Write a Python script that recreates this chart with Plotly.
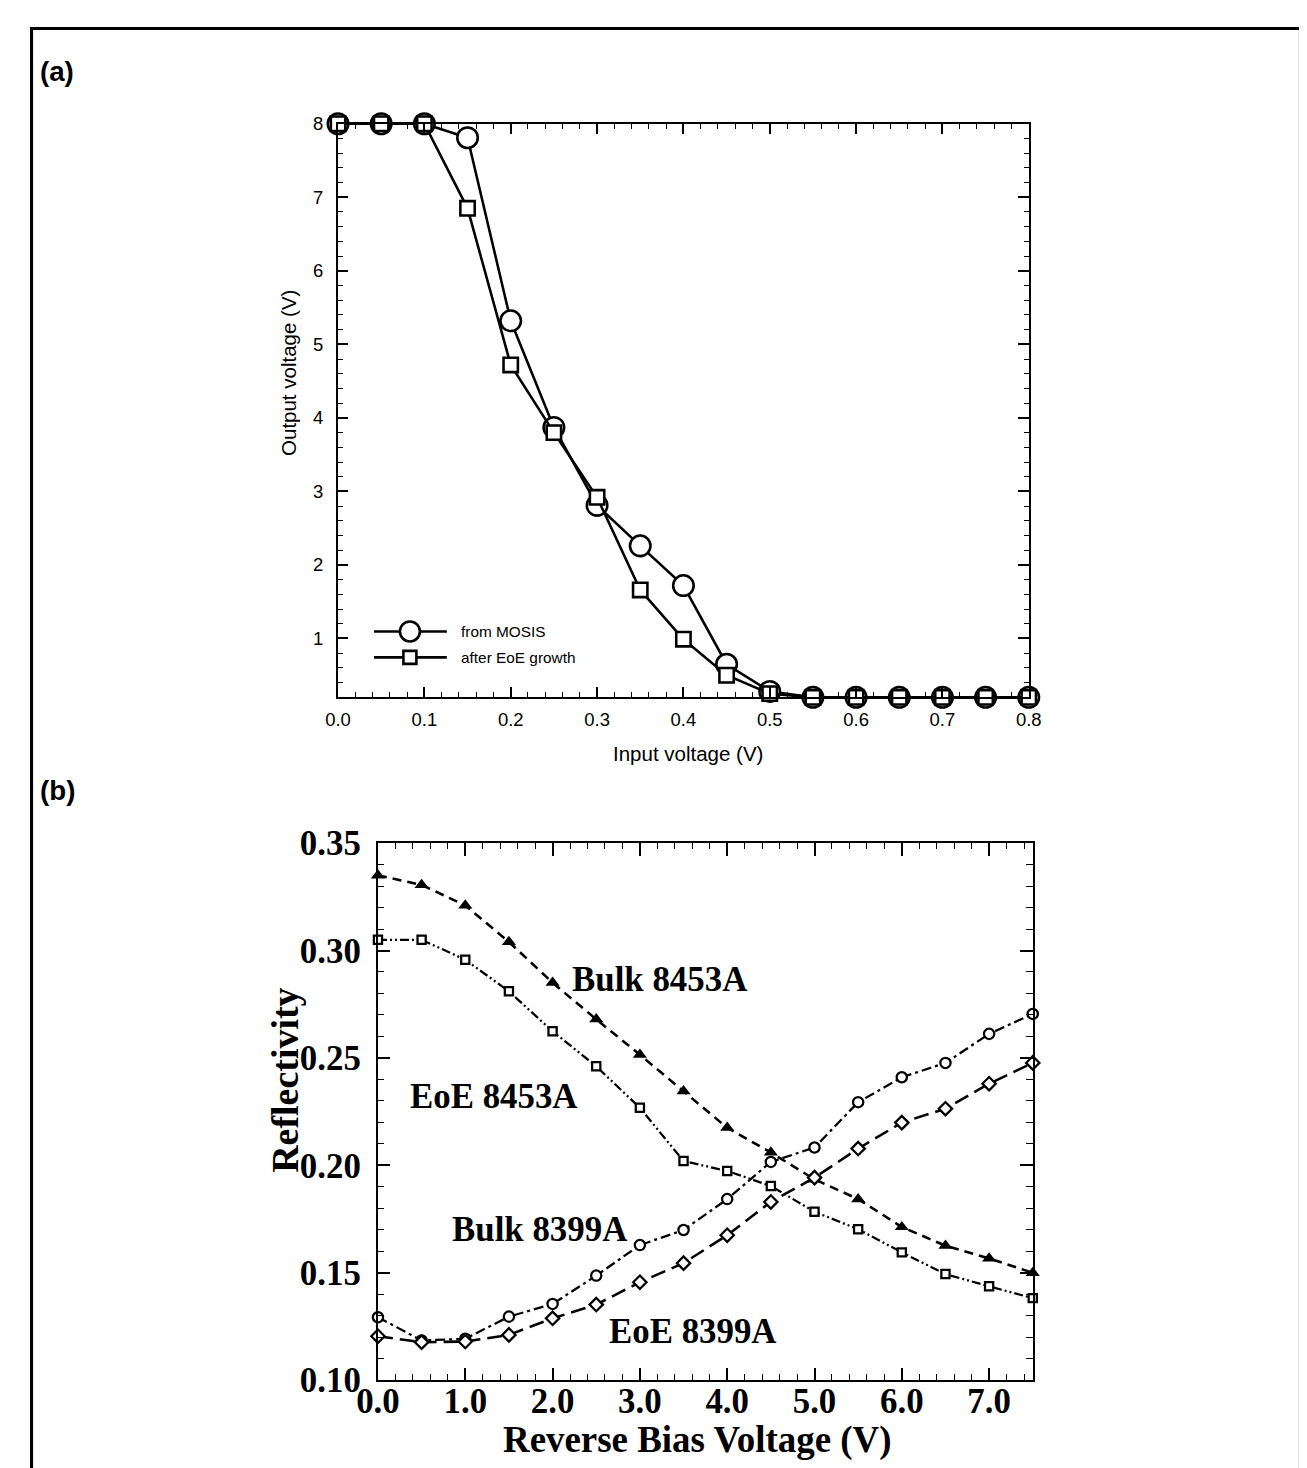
import plotly.graph_objects as go

W, H = 1307, 1468

# ---------------- Panel (a) data ----------------
vin = [0.0, 0.05, 0.1, 0.15, 0.2, 0.25, 0.3, 0.35, 0.4, 0.45, 0.5, 0.55, 0.6, 0.65, 0.7, 0.75, 0.8]
vout_mosis = [8.0, 8.0, 8.0, 7.81, 5.32, 3.87, 2.81, 2.26, 1.72, 0.65, 0.28, 0.2, 0.2, 0.2, 0.2, 0.2, 0.2]
vout_eoe = [8.0, 8.0, 8.0, 6.85, 4.72, 3.80, 2.92, 1.66, 0.99, 0.50, 0.25, 0.2, 0.2, 0.2, 0.2, 0.2, 0.2]
legend_a = ["from MOSIS", "after EoE growth"]

# ---------------- Panel (b) data ----------------
vbias = [0.0, 0.5, 1.0, 1.5, 2.0, 2.5, 3.0, 3.5, 4.0, 4.5, 5.0, 5.5, 6.0, 6.5, 7.0, 7.5]
bulk_8453 = [0.335, 0.3305, 0.321, 0.304, 0.285, 0.268, 0.2515, 0.2345, 0.2175, 0.206, 0.1935, 0.1843, 0.1713, 0.1626, 0.1567, 0.150]
eoe_8453 = [0.305, 0.305, 0.2957, 0.281, 0.2624, 0.2461, 0.2268, 0.2020, 0.1974, 0.1904, 0.1784, 0.1703, 0.1595, 0.1494, 0.1437, 0.1382]
bulk_8399 = [0.1293, 0.1185, 0.1193, 0.1296, 0.1355, 0.1487, 0.1629, 0.1699, 0.1843, 0.2016, 0.2083, 0.2294, 0.2410, 0.2477, 0.2612, 0.2705]
eoe_8399 = [0.1205, 0.1177, 0.1180, 0.1211, 0.1288, 0.1352, 0.1456, 0.1545, 0.1675, 0.1830, 0.1943, 0.2078, 0.2199, 0.2264, 0.2380, 0.2477]
labels_b = ["Bulk 8453A", "EoE 8453A", "Bulk 8399A", "EoE 8399A"]
label_pos_b = [(3.22, 0.2864), (1.33, 0.2322), (1.85, 0.1703), (3.61, 0.1225)]

# The rendered page shows up scaled by K with a small offset; layout positions below
# are given in target-picture pixels and converted to figure pixels.
K = 0.975
OX, OY = 27.4, 25.6
S = 1 / K


def fxp(r):
    return (r - OX) / K


def fyp(r):
    return (r - OY) / K


def px(r):
    return fxp(r) / W


def py(r):
    return 1 - fyp(r) / H


def ppx(f):
    return f / W


def ppy(f):
    return 1 - f / H


SANS = "Liberation Sans"
SERIF = "Liberation Serif"

fig = go.Figure()

# Panel (a) traces
fig.add_trace(go.Scatter(
    x=vin, y=vout_mosis, mode="lines+markers", name=legend_a[0],
    line=dict(color="black", width=2.5 * S),
    marker=dict(symbol="circle", size=20 * S, color="white", line=dict(color="black", width=2.5 * S)),
    cliponaxis=False, xaxis="x", yaxis="y", showlegend=False))
fig.add_trace(go.Scatter(
    x=vin, y=vout_eoe, mode="lines+markers", name=legend_a[1],
    line=dict(color="black", width=2.5 * S),
    marker=dict(symbol="square", size=14 * S, color="white", line=dict(color="black", width=2.5 * S)),
    cliponaxis=False, xaxis="x", yaxis="y", showlegend=False))

# Panel (b) traces
fig.add_trace(go.Scatter(
    x=vbias, y=bulk_8453, mode="lines+markers", name=labels_b[0],
    line=dict(color="black", width=2.5 * S, dash="9px,6px"),
    marker=dict(symbol="triangle-up", size=12 * S, color="black"),
    cliponaxis=False, xaxis="x2", yaxis="y2", showlegend=False))
fig.add_trace(go.Scatter(
    x=vbias, y=eoe_8453, mode="lines+markers", name=labels_b[1],
    line=dict(color="black", width=2.2 * S, dash="9px,3px,2px,3px,2px,3px"),
    marker=dict(symbol="square", size=8 * S, color="white", line=dict(color="black", width=2.2 * S)),
    cliponaxis=False, xaxis="x2", yaxis="y2", showlegend=False))
fig.add_trace(go.Scatter(
    x=vbias, y=bulk_8399, mode="lines+markers", name=labels_b[2],
    line=dict(color="black", width=2.2 * S, dash="10px,4px,3px,4px"),
    marker=dict(symbol="circle", size=10 * S, color="white", line=dict(color="black", width=2.2 * S)),
    cliponaxis=False, xaxis="x2", yaxis="y2", showlegend=False))
fig.add_trace(go.Scatter(
    x=vbias, y=eoe_8399, mode="lines+markers", name=labels_b[3],
    line=dict(color="black", width=2.5 * S, dash="15px,7px"),
    marker=dict(symbol="diamond", size=10 * S, color="white", line=dict(color="black", width=2.2 * S)),
    cliponaxis=False, xaxis="x2", yaxis="y2", showlegend=False))

# Axis geometry (target-picture pixels)
ax_a = dict(l=336, r=1028, t=122.5, b=697)
ax_b = dict(l=376, r=1032, t=843, b=1381)

common = dict(showline=True, linecolor="black", mirror="allticks", ticks="inside",
              tickcolor="black", showgrid=False, zeroline=False, fixedrange=True)

fig.update_layout(
    width=W, height=H, margin=dict(l=0, r=0, t=0, b=0),
    paper_bgcolor="white", plot_bgcolor="white",
    xaxis=dict(domain=[px(ax_a["l"]), px(ax_a["r"])], anchor="y", range=[0, 0.8],
               tickvals=[0.0, 0.1, 0.2, 0.3, 0.4, 0.5, 0.6, 0.7, 0.8],
               ticktext=["0.0", "0.1", "0.2", "0.3", "0.4", "0.5", "0.6", "0.7", "0.8"],
               ticklen=10 * S, tickwidth=1.5, linewidth=2 * S,
               minor=dict(dtick=0.02, tick0=0, ticklen=5 * S, tickwidth=1.2, ticks="inside", tickcolor="black"),
               tickfont=dict(family=SANS, size=18 * S, color="black"), ticklabelstandoff=4, **common),
    yaxis=dict(domain=[py(ax_a["b"]), py(ax_a["t"])], anchor="x", range=[0.2, 8],
               tickvals=[1, 2, 3, 4, 5, 6, 7, 8], ticktext=["1", "2", "3", "4", "5", "6", "7", "8"],
               ticklen=10 * S, tickwidth=1.5, linewidth=2 * S,
               minor=dict(dtick=0.2, tick0=0, ticklen=5 * S, tickwidth=1.2, ticks="inside", tickcolor="black"),
               tickfont=dict(family=SANS, size=18 * S, color="black"), ticklabelstandoff=9, **common),
    xaxis2=dict(domain=[px(ax_b["l"]), px(ax_b["r"])], anchor="y2", range=[0, 7.5],
                tickvals=[0, 1, 2, 3, 4, 5, 6, 7],
                ticktext=["0.0", "1.0", "2.0", "3.0", "4.0", "5.0", "6.0", "7.0"],
                ticklen=12 * S, tickwidth=1.5, linewidth=2.2 * S,
                minor=dict(dtick=0.2, tick0=0, ticklen=6 * S, tickwidth=1.2, ticks="inside", tickcolor="black"),
                tickfont=dict(family=SERIF, size=34 * S, color="black", weight="bold"), ticklabelstandoff=-11, **common),
    yaxis2=dict(domain=[py(ax_b["b"]), py(ax_b["t"])], anchor="x2", range=[0.10, 0.35],
                tickvals=[0.10, 0.15, 0.20, 0.25, 0.30, 0.35],
                ticktext=["0.10", "0.15", "0.20", "0.25", "0.30", "0.35"],
                ticklen=12 * S, tickwidth=1.5, linewidth=2.2 * S,
                minor=dict(dtick=0.01, tick0=0, ticklen=6 * S, tickwidth=1.2, ticks="inside", tickcolor="black"),
                tickfont=dict(family=SERIF, size=34 * S, color="black", weight="bold"), ticklabelstandoff=8, **common),
)

annotations = []
# Panel labels
annotations.append(dict(text="(a)", x=px(35), y=py(70), xref="paper", yref="paper",
                        xanchor="left", yanchor="middle", showarrow=False,
                        font=dict(family=SANS, size=27 * S, color="black", weight="bold")))
annotations.append(dict(text="(b)", x=px(35), y=py(790), xref="paper", yref="paper",
                        xanchor="left", yanchor="middle", showarrow=False,
                        font=dict(family=SANS, size=27 * S, color="black", weight="bold")))
# Axis titles panel (a)
annotations.append(dict(text="Input voltage (V)", x=px(687), y=py(753), xref="paper", yref="paper",
                        xanchor="center", yanchor="middle", showarrow=False,
                        font=dict(family=SANS, size=20 * S, color="black")))
annotations.append(dict(text="Output voltage (V)", x=px(287), y=py(372), xref="paper", yref="paper",
                        xanchor="center", yanchor="middle", showarrow=False, textangle=-90,
                        font=dict(family=SANS, size=20 * S, color="black")))
# Axis titles panel (b)
annotations.append(dict(text="Reverse Bias Voltage (V)", x=px(696), y=py(1441), xref="paper", yref="paper",
                        xanchor="center", yanchor="middle", showarrow=False,
                        font=dict(family=SERIF, size=36 * S, color="black", weight="bold")))
annotations.append(dict(text="Reflectivity", x=px(283), y=py(1081), xref="paper", yref="paper",
                        xanchor="center", yanchor="middle", showarrow=False, textangle=-90,
                        font=dict(family=SERIF, size=37 * S, color="black", weight="bold")))
# Curve labels panel (b)
for lab, (lx, ly) in zip(labels_b, label_pos_b):
    annotations.append(dict(text=lab, x=lx, y=ly, xref="x2", yref="y2",
                            xanchor="center", yanchor="middle", showarrow=False,
                            font=dict(family=SERIF, size=34 * S, color="black", weight="bold")))
# Legend texts panel (a)
annotations.append(dict(text=legend_a[0], x=px(457), y=py(631), xref="paper", yref="paper",
                        xanchor="left", yanchor="middle", showarrow=False,
                        font=dict(family=SANS, size=15 * S, color="black")))
annotations.append(dict(text=legend_a[1], x=px(457), y=py(657), xref="paper", yref="paper",
                        xanchor="left", yanchor="middle", showarrow=False,
                        font=dict(family=SANS, size=15 * S, color="black")))

shapes = []
# outer frame (as close to the picture edge as the page allows)
shapes.append(dict(type="rect", xref="paper", yref="paper", x0=ppx(1.6), x1=ppx(1305.4), y0=-0.02, y1=ppy(1.6),
                   line=dict(color="black", width=3 * S), fillcolor="rgba(0,0,0,0)"))
# legend samples panel (a)
for yy in (631, 657):
    shapes.append(dict(type="line", xref="paper", yref="paper", x0=px(372), x1=px(445), y0=py(yy), y1=py(yy),
                       line=dict(color="black", width=2.5 * S)))
shapes.append(dict(type="circle", xref="paper", yref="paper", x0=px(398), x1=px(418), y0=py(641), y1=py(621),
                   line=dict(color="black", width=2.5 * S), fillcolor="white"))
shapes.append(dict(type="rect", xref="paper", yref="paper", x0=px(401.5), x1=px(414.5), y0=py(663.5), y1=py(650.5),
                   line=dict(color="black", width=2.5 * S), fillcolor="white"))

fig.update_layout(annotations=annotations, shapes=shapes)

fig.write_html("out.html", config={"displayModeBar": False})
